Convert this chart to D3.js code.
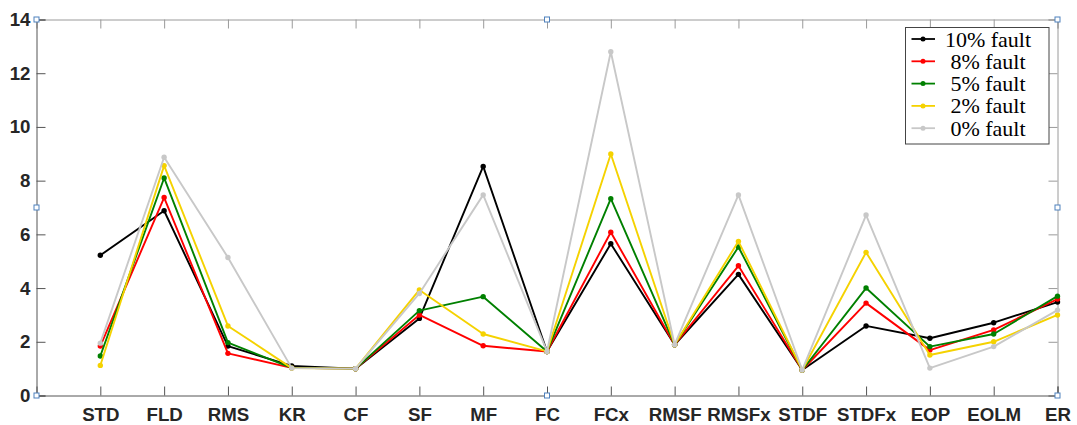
<!DOCTYPE html>
<html>
<head>
<meta charset="utf-8">
<script src="https://cdn.jsdelivr.net/npm/d3@7"></script>
<style>
  body { margin: 0; background: #fff; }
  .tick text { font-family: "Liberation Sans", Arial, sans-serif; font-weight: bold; font-size: 18.7px; fill: #262626; }
</style>
</head>
<body>
<svg id="chart" width="1077" height="425"></svg>
<script>
var features = ['STD','FLD','RMS','KR','CF','SF','MF','FC','FCx','RMSF','RMSFx','STDF','STDFx','EOP','EOLM','ER']
var yTicks = [0, 2, 4, 6, 8, 10, 12, 14]

var fault10 = [5.22, 6.88, 1.84, 1.10, 1.00, 2.87, 8.53, 1.64, 5.65, 1.89, 4.51, 0.95, 2.59, 2.13, 2.71, 3.48]
var fault8  = [1.84, 7.37, 1.57, 1.03, 1.00, 3.00, 1.85, 1.64, 6.08, 1.89, 4.83, 0.95, 3.44, 1.69, 2.44, 3.59]
var fault5  = [1.47, 8.10, 1.97, 1.03, 1.00, 3.16, 3.68, 1.64, 7.33, 1.89, 5.53, 0.95, 4.00, 1.82, 2.29, 3.70]
var fault2  = [1.12, 8.56, 2.59, 1.02, 1.00, 3.93, 2.29, 1.64, 8.99, 1.89, 5.74, 0.95, 5.33, 1.51, 2.00, 3.00]
var fault0  = [1.95, 8.87, 5.14, 1.02, 1.00, 3.80, 7.47, 1.64, 12.80, 1.89, 7.47, 0.95, 6.72, 1.02, 1.82, 3.18]

var seriesNames  = ['10% fault', '8% fault', '5% fault', '2% fault', '0% fault']
var seriesValues = [fault10, fault8, fault5, fault2, fault0]
var seriesColors = ['#000000', '#ff0000', '#008000', '#f5d200', '#c8c8c8']

var svg = d3.select('#chart')
var mLeft = 36.5, mRight = 1057.5, mTop = 19.5, mBottom = 395.5

var x = d3.scaleLinear().domain([-1, features.length - 1]).range([mLeft, mRight])
var y = d3.scaleLinear().domain([0, 14]).range([mBottom, mTop])
var idx = d3.range(features.length)

// box axes, ticks pointing inward
svg.append('g').attr('transform', `translate(0,${mTop})`)
  .call(d3.axisTop(x).tickValues(idx).tickSize(-9).tickFormat(''))
  .call(g => g.selectAll('line,path').attr('stroke', '#9a9a9a'))
svg.append('g').attr('transform', `translate(${mRight},0)`)
  .call(d3.axisRight(y).tickValues(yTicks).tickSize(-9).tickFormat(''))
  .call(g => g.selectAll('line,path').attr('stroke', '#9a9a9a'))

svg.append('g').attr('transform', `translate(0,${mBottom})`)
  .call(d3.axisBottom(x).tickValues(idx).tickSize(-9).tickPadding(12).tickFormat(i => features[i]))
  .call(g => g.selectAll('line,path').attr('stroke', '#555'))
svg.append('g').attr('transform', `translate(${mLeft},0)`)
  .call(d3.axisLeft(y).tickValues(yTicks).tickSize(-9).tickPadding(6))
  .call(g => g.selectAll('line,path').attr('stroke', '#555'))

// lines and markers
var line = d3.line().x((d, i) => x(i)).y(d => y(d))
seriesValues.forEach((vals, s) => {
  var g = svg.append('g')
  g.append('path').datum(vals)
    .attr('d', line)
    .attr('fill', 'none')
    .attr('stroke', seriesColors[s])
    .attr('stroke-width', 1.9)
    .attr('stroke-linejoin', 'round')
  g.selectAll('circle').data(vals).join('circle')
    .attr('cx', (d, i) => x(i))
    .attr('cy', d => y(d))
    .attr('r', 2.7)
    .attr('fill', seriesColors[s])
})

// legend
var lg = svg.append('g')
lg.append('rect')
  .attr('x', 905.5).attr('y', 27.5).attr('width', 143.5).attr('height', 116.5)
  .attr('fill', '#fff').attr('stroke', '#444').attr('stroke-width', 1)
seriesNames.forEach((name, s) => {
  var cy = 39 + s * 22.3
  lg.append('line').attr('x1', 911.5).attr('x2', 935).attr('y1', cy).attr('y2', cy)
    .attr('stroke', seriesColors[s]).attr('stroke-width', 1.8)
  lg.append('circle').attr('cx', 923).attr('cy', cy).attr('r', 2.5).attr('fill', seriesColors[s])
  lg.append('text').attr('x', 988).attr('y', cy + 7.5)
    .attr('text-anchor', 'middle')
    .style('font-family', '"Liberation Serif", "Times New Roman", serif')
    .style('font-size', '22px').attr('fill', '#000')
    .text(name)
})

// selection handles of the figure box
var handles = [[mLeft, mTop], [x(7), mTop], [mRight, mTop], [mLeft, (mTop + mBottom) / 2],
  [mRight, (mTop + mBottom) / 2], [mLeft, mBottom], [x(7), mBottom], [mRight, mBottom]]
svg.selectAll('rect.handle').data(handles).join('rect')
  .attr('class', 'handle')
  .attr('x', d => d[0] - 2.5).attr('y', d => d[1] - 2.5)
  .attr('width', 5).attr('height', 5)
  .attr('fill', '#fff').attr('stroke', '#4f81bd').attr('stroke-width', 1)
</script>
</body>
</html>
